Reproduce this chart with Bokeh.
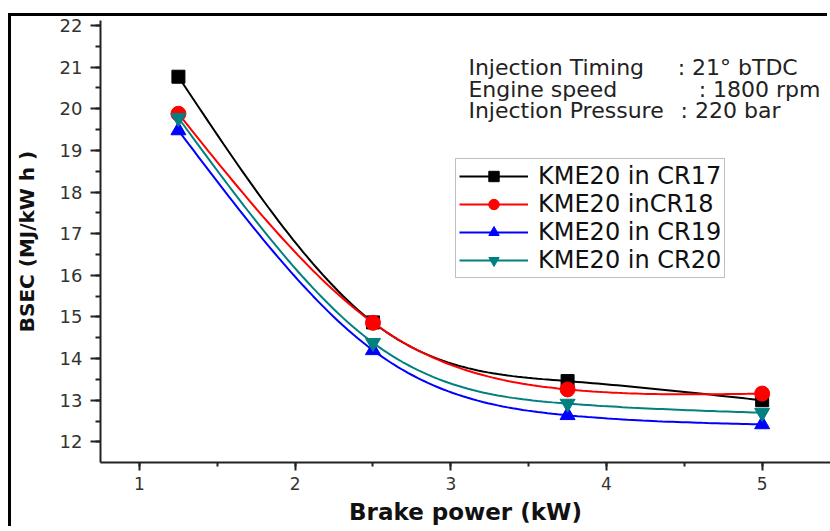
import numpy as np
from bokeh.plotting import figure
from bokeh.models import (Range1d, SingleIntervalTicker, Legend, LegendItem,
                          Label, ColumnDataSource)
from bokeh.embed import file_html
from bokeh.resources import INLINE

# ---------------- data ----------------
brake_power = [1.25, 2.5, 3.75, 5.0]
bsec_cr17 = [20.77, 14.87, 13.46, 13.00]
bsec_cr18 = [19.88, 14.86, 13.26, 13.16]
bsec_cr19 = [19.48, 14.20, 12.64, 12.42]
bsec_cr20 = [19.78, 14.38, 12.92, 12.70]
series_labels = ["KME20 in CR17", "KME20 inCR18", "KME20 in CR19", "KME20 in CR20"]
note_keys = ["Injection Timing", "Engine speed", "Injection Pressure"]
note_values = [": 21\u00b0 bTDC", ": 1800 rpm", ": 220 bar"]
x_title = "Brake power (kW)"
y_title = "BSEC (MJ/kW h )"

FONT = "DejaVu Sans"


def natural_spline(xs, ys, n=40):
    """Smooth connecting curve through the measured points (natural cubic spline)."""
    x = np.asarray(xs, float)
    y = np.asarray(ys, float)
    k = len(x)
    h = np.diff(x)
    A = np.zeros((k, k))
    r = np.zeros(k)
    A[0, 0] = A[-1, -1] = 1.0
    for i in range(1, k - 1):
        A[i, i - 1] = h[i - 1]
        A[i, i] = 2 * (h[i - 1] + h[i])
        A[i, i + 1] = h[i]
        r[i] = 6 * ((y[i + 1] - y[i]) / h[i] - (y[i] - y[i - 1]) / h[i - 1])
    M = np.linalg.solve(A, r)
    out_x, out_y = [], []
    for i in range(k - 1):
        t = np.linspace(x[i], x[i + 1], n)
        hi = h[i]
        s = (M[i] * (x[i + 1] - t) ** 3 / (6 * hi) + M[i + 1] * (t - x[i]) ** 3 / (6 * hi)
             + (y[i] / hi - M[i] * hi / 6) * (x[i + 1] - t)
             + (y[i + 1] / hi - M[i + 1] * hi / 6) * (t - x[i]))
        out_x.extend(t.tolist())
        out_y.extend(s.tolist())
    return out_x, out_y


p = figure(width=819, height=513, output_backend="svg", toolbar_location=None,
           x_range=Range1d(0.7495, 5.439), y_range=Range1d(11.505, 22.12),
           min_border_left=89, min_border_right=0, min_border_top=4, min_border_bottom=67)
# outer picture frame on the left and top edges: a hard shadow does not change the box size
p.styles = {"margin-left": "11px", "margin-top": "16px",
            "box-shadow": "-3px -3px 0px 0px black"}

p.background_fill_color = "white"
p.border_fill_color = "white"
p.outline_line_color = None
p.xgrid.visible = False
p.ygrid.visible = False

# axes
for ax in (p.xaxis[0], p.yaxis[0]):
    ax.axis_line_color = "#222222"
    ax.axis_line_width = 2
    ax.major_tick_line_color = "#222222"
    ax.major_tick_line_width = 2
    ax.minor_tick_line_color = "#222222"
    ax.minor_tick_line_width = 2
    ax.major_tick_in = 0
    ax.minor_tick_in = 0
    ax.major_label_text_font = FONT
    ax.major_label_text_font_size = "18px"
    ax.major_label_text_color = "#333333"
    ax.axis_label_text_font = FONT
    ax.axis_label_text_font_style = "bold"
    ax.axis_label_text_color = "#111111"

p.xaxis.ticker = SingleIntervalTicker(interval=1, num_minor_ticks=2)
p.yaxis.ticker = SingleIntervalTicker(interval=1, num_minor_ticks=2)
p.xaxis.major_tick_out = 8
p.xaxis.minor_tick_out = 4
p.xaxis.major_label_standoff = 6
p.xaxis.major_label_text_font_size = "17px"
p.xaxis.axis_label = x_title
p.xaxis.axis_label_text_font_size = "23px"
p.xaxis.axis_label_standoff = 6

p.yaxis.major_tick_out = 10
p.yaxis.minor_tick_out = 5
p.yaxis.major_label_standoff = 8
p.yaxis.axis_label = y_title
p.yaxis.axis_label_text_font_size = "20px"
p.yaxis.axis_label_standoff = 18

# series
series = [
    (bsec_cr17, "black", "square", 13),
    (bsec_cr18, "#ff0000", "circle", 15),
    (bsec_cr19, "#0000ff", "triangle", 15),
    (bsec_cr20, "#008080", "inverted_triangle", 15),
]
items = []
for (vals, color, marker, size), label in zip(series, series_labels):
    sx, sy = natural_spline(brake_power, vals)
    lr = p.line(sx, sy, line_color=color, line_width=2)
    src = ColumnDataSource(dict(x=brake_power, y=vals))
    sr = p.scatter("x", "y", source=src, marker=marker, size=size,
                   fill_color=color, line_color=color)
    items.append(LegendItem(label=label, renderers=[lr, sr]))

legend = Legend(items=items, location=(355, 184),
                label_text_font=FONT, label_text_font_size="24px",
                label_text_color="#111111",
                glyph_width=69, glyph_height=26, label_height=26,
                label_standoff=10, padding=3, spacing=0, margin=0,
                border_line_color="#808080", border_line_width=1,
                background_fill_color="white", background_fill_alpha=1.0)
p.add_layout(legend)

# operating-condition notes
for key, val, yb, xv in zip(note_keys, note_values, [20.98, 20.464, 19.948], [4.457, 4.592, 4.476]):
    p.add_layout(Label(x=3.113, y=yb, text=key, text_font=FONT, text_font_size="22px",
                       text_color="#222222", text_baseline="alphabetic"))
    p.add_layout(Label(x=xv, y=yb, text=val, text_font=FONT, text_font_size="22px",
                       text_color="#222222", text_baseline="alphabetic"))

open("out.html", "w").write(file_html(p, INLINE))
